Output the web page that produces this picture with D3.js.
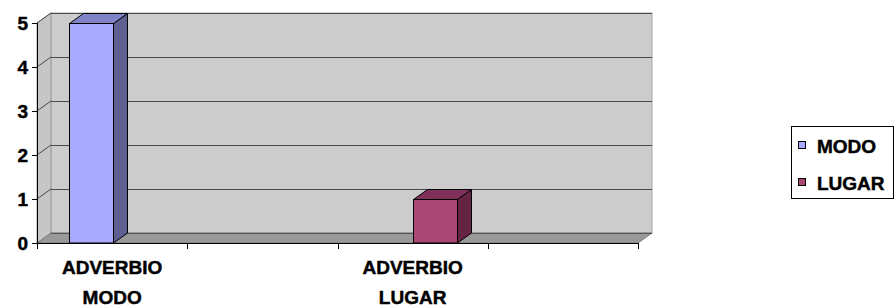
<!DOCTYPE html>
<html>
<head>
<meta charset="utf-8">
<script src="https://cdn.jsdelivr.net/npm/d3@7"></script>
<style>
  body { margin: 0; background: #fff; }
  text { font-family: "Liberation Sans", Arial, sans-serif; font-weight: 700; stroke: #000; stroke-width: 0.45px; }
</style>
</head>
<body>
<div id="chart"></div>
<script>
// data
var categories = ["ADVERBIO MODO", "", "ADVERBIO LUGAR", ""];
var seriesNames = ["MODO", "LUGAR"];
var modoValues = [5, 0, 0, 0];
var lugarValues = [0, 0, 1, 0];
var yTicks = [0, 1, 2, 3, 4, 5];

var W = 895, H = 307;
var plotL = 37, plotR = 638, plotB = 243, plotT = 23;
var dx = 14, dy = -10; // 3d depth offset

var colors = {
  MODO:  {front: "#a9aaff", side: "#5f5f91", top: "#8183c7"},
  LUGAR: {front: "#a94875", side: "#652444", top: "#7f3058"}
};

var svg = d3.select("#chart").append("svg")
    .attr("width", W).attr("height", H);

var x0 = d3.scaleBand().domain(d3.range(categories.length)).range([plotL, plotR]);
var x1 = d3.scaleBand().domain(seriesNames).range([0, x0.bandwidth()]).paddingOuter(0.745);
var y = d3.scaleLinear().domain([0, 5]).range([plotB, plotT]);

// back wall
svg.append("rect")
  .attr("x", plotL + dx).attr("y", plotT + dy)
  .attr("width", plotR - plotL).attr("height", plotB - plotT)
  .attr("fill", "#cccccc").attr("stroke", "#a8a8a8");

// left side wall
svg.append("path")
  .attr("d", "M" + plotL + "," + plotB + "L" + plotL + "," + plotT + "L" + (plotL + dx) + "," + (plotT + dy) +
             "L" + (plotL + dx) + "," + (plotB + dy) + "Z")
  .attr("fill", "#c6c6c6").attr("stroke", "#9a9a9a");

// gridlines
yTicks.forEach(function(t) {
  if (t === 0) return;
  svg.append("line")
    .attr("x1", plotL + dx).attr("x2", plotR + dx)
    .attr("y1", y(t) + dy + 0.5).attr("y2", y(t) + dy + 0.5)
    .attr("stroke", "#4a4a4a").attr("stroke-width", 1);
  svg.append("line")
    .attr("x1", plotL).attr("x2", plotL + dx)
    .attr("y1", y(t)).attr("y2", y(t) + dy)
    .attr("stroke", "#4a4a4a").attr("stroke-width", 1);
});

// floor
svg.append("path")
  .attr("d", "M" + plotL + "," + plotB + "L" + (plotL + dx) + "," + (plotB + dy) + "L" + (plotR + dx) + "," + (plotB + dy) +
             "L" + plotR + "," + plotB + "Z")
  .attr("fill", "#999999").attr("stroke", "#7a7a7a");
svg.append("line")
  .attr("x1", plotL + dx).attr("x2", plotR + dx)
  .attr("y1", plotB + dy + 0.5).attr("y2", plotB + dy + 0.5)
  .attr("stroke", "#555");

// bars
var rows = [];
categories.forEach(function(c, i) {
  rows.push({cat: i, s: "MODO", v: modoValues[i]});
  rows.push({cat: i, s: "LUGAR", v: lugarValues[i]});
});
var bars = svg.append("g").selectAll("g")
  .data(rows.filter(function(d) { return d.v > 0; }))
  .enter().append("g");

bars.each(function(d) {
  var g = d3.select(this);
  var xl = Math.round(x0(d.cat) + x1(d.s)) + 0.5, xr = Math.round(xl + x1.bandwidth()) + 0.5;
  var yt = Math.round(y(d.v)) + 0.5, yb = y(0);
  var c = colors[d.s];
  g.append("path")
    .attr("d", "M" + xr + "," + yb + "L" + xr + "," + yt + "L" + (xr + dx) + "," + (yt + dy) +
               "L" + (xr + dx) + "," + (yb + dy) + "Z")
    .attr("fill", c.side).attr("stroke", "#000").attr("stroke-width", 1);
  g.append("path")
    .attr("d", "M" + xl + "," + yt + "L" + (xl + dx) + "," + (yt + dy) + "L" + (xr + dx) + "," + (yt + dy) +
               "L" + xr + "," + yt + "Z")
    .attr("fill", c.top).attr("stroke", "#000").attr("stroke-width", 1);
  g.append("rect")
    .attr("x", xl).attr("y", yt).attr("width", xr - xl).attr("height", yb - yt)
    .attr("fill", c.front).attr("stroke", "#000").attr("stroke-width", 1);
});

// front floor edge / x axis
var xAxis = svg.append("g");
xAxis.append("line")
  .attr("x1", plotL).attr("x2", plotR).attr("y1", plotB + 0.5).attr("y2", plotB + 0.5)
  .attr("stroke", "#000");
x0.domain().concat([categories.length]).forEach(function(i) {
  var xx = Math.round(i < categories.length ? x0(i) : plotR) + 0.5;
  xAxis.append("line")
    .attr("x1", xx).attr("x2", xx).attr("y1", plotB).attr("y2", plotB + 6)
    .attr("stroke", "#000");
});
categories.forEach(function(c, i) {
  if (!c) return;
  var words = c.split(" ");
  var t = xAxis.append("text")
    .attr("text-anchor", "middle")
    .attr("font-weight", "bold")
    .style("font-size", "19px");
  words.forEach(function(w, k) {
    t.append("tspan").attr("x", x0(i) + x0.bandwidth() / 2)
      .attr("y", 274 + k * 30).text(w);
  });
});

// y axis
svg.append("line")
  .attr("x1", plotL + 0.5).attr("x2", plotL + 0.5).attr("y1", plotT).attr("y2", plotB)
  .attr("stroke", "#000");
yTicks.forEach(function(t) {
  svg.append("line")
    .attr("x1", plotL - 5).attr("x2", plotL).attr("y1", Math.round(y(t)) + 0.5).attr("y2", Math.round(y(t)) + 0.5)
    .attr("stroke", "#000");
  svg.append("text")
    .attr("x", 28).attr("y", y(t) + 6.5)
    .attr("text-anchor", "end")
    .attr("font-weight", "bold")
    .style("font-size", "19px")
    .text(t);
});

// legend
var lg = svg.append("g");
lg.append("rect")
  .attr("x", 791.5).attr("y", 126.5).attr("width", 102).attr("height", 72)
  .attr("fill", "#fff").attr("stroke", "#000");
seriesNames.forEach(function(s, i) {
  var cy = 145 + i * 37;
  lg.append("rect")
    .attr("x", 798.5).attr("y", cy - 3.5).attr("width", 7).attr("height", 7)
    .attr("fill", colors[s].front).attr("stroke", "#000");
  lg.append("text")
    .attr("x", 817).attr("y", cy + 7.5)
    .attr("font-weight", "bold")
    .style("font-size", "19px")
    .text(s);
});
</script>
</body>
</html>
